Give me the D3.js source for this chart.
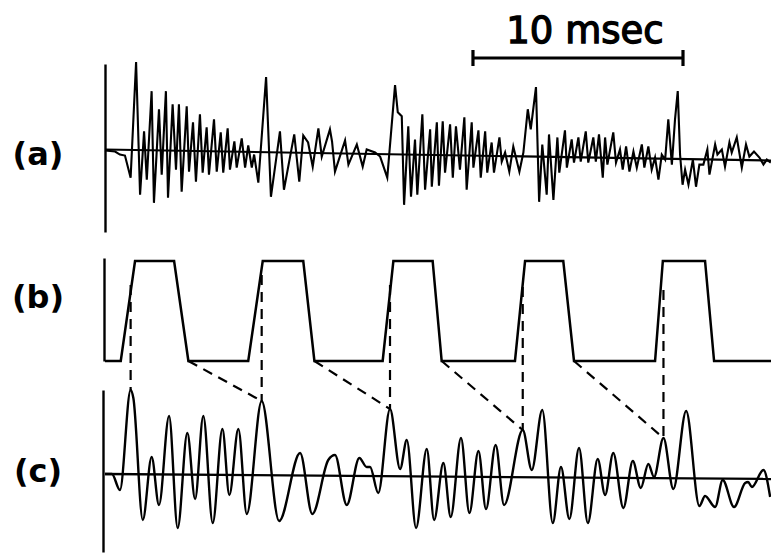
<!DOCTYPE html>
<html>
<head>
<meta charset="utf-8">
<script src="https://cdn.jsdelivr.net/npm/d3@7"></script>
<style>
  html, body { margin: 0; padding: 0; background: #fff; }
  svg { display: block; }
  .lbl { font-family: "DejaVu Sans", sans-serif; font-weight: bold; fill: #000; }
  .bar-lbl { font-family: "DejaVu Sans", sans-serif; fill: #000; stroke: #000; stroke-width: 1.3; }
</style>
</head>
<body>
<svg id="fig" width="771" height="556"></svg>
<script>
// ---- data -------------------------------------------------------------
// time in ms, amplitudes in arbitrary units

// (a) raw waveform: [time, amplitude]
const traceA = [
  [0,0],[0.48,-0.1],[0.71,-0.4],[0.95,-0.5],[1.22,-2.7],[1.48,8.8],[1.67,-4.4],[1.86,1.9],
  [1.99,-2.9],[2.22,5.9],[2.33,-5.2],[2.57,4.1],[2.70,-2.4],[2.90,5.9],[3.00,-4.7],[3.22,4.6],
  [3.38,-1.9],[3.52,4.6],[3.65,-4.1],[3.89,4.4],[4.00,-2.1],[4.19,2.8],[4.33,-3.1],[4.52,3.6],
  [4.65,-2.2],[4.84,2.3],[4.95,-2.4],[5.19,3.1],[5.32,-2.1],[5.51,1.8],[5.63,-2.2],[5.84,2.2],
  [5.95,-1.9],[6.16,0.9],[6.27,-1.7],[6.51,1.2],[6.67,-1.7],[6.82,0.5],[6.99,-1.7],[7.10,-0.4],
  [7.30,-3.2],[7.67,7.3],[7.90,-4.6],[8.33,1.9],[8.52,-3.9],[9.01,1.6],[9.25,-3.1],[9.44,1.5],
  [9.67,0.8],[9.89,-1.6],[10.16,2.2],[10.32,-0.6],[10.71,2.1],[10.81,0.9],[10.95,-2.1],[11.43,1.0],
  [11.59,-1.4],[11.99,0.6],[12.27,-1.6],[12.46,0.1],[12.86,-0.2],[13.10,-0.6],[13.44,-2.7],[13.81,6.5],
  [13.94,3.8],[14.13,3.4],[14.24,-5.4],[14.44,2.4],[14.57,-4.6],[14.76,1.1],[14.87,-4.4],[15.11,3.6],
  [15.24,-3.9],[15.48,2.1],[15.56,-3.6],[15.80,2.8],[15.90,-3.5],[16.08,2.9],[16.19,-2.2],[16.43,2.6],
  [16.56,-2.7],[16.71,2.4],[16.90,-1.9],[17.11,3.3],[17.22,-3.9],[17.46,2.8],[17.54,-1.7],[17.78,2.0],
  [17.89,-2.7],[18.10,1.9],[18.20,-2.2],[18.41,0.8],[18.52,-2.2],[18.78,1.3],[18.89,-1.1],[19.05,-0.2],
  [19.25,-2.1],[19.44,0.4],[19.73,-2.1],[19.92,-0.2],[20.13,4.1],[20.27,2.1],[20.52,6.3],[20.67,-5.1],
  [20.82,0.6],[21.03,-4.4],[21.14,1.6],[21.35,-4.9],[21.54,1.3],[21.63,-2.2],[21.90,2.0],[21.99,-1.7],
  [22.22,1.1],[22.33,-1.2],[22.54,1.3],[22.65,-1.1],[22.89,1.9],[23.01,-1.2],[23.25,1.3],[23.37,-1.1],
  [23.52,1.6],[23.70,-2.7],[23.81,1.3],[23.92,-1.4],[24.20,1.8],[24.33,-1.2],[24.52,0.1],[24.65,-1.9],
  [24.81,0.4],[24.97,-2.1],[25.16,-0.1],[25.32,-1.7],[25.56,0.6],[25.68,-1.7],[25.87,0.4],[26.03,-1.9],
  [26.19,-0.7],[26.35,-2.9],[26.51,-0.4],[26.67,-0.9],[26.82,3.1],[26.99,-1.4],[27.14,3.1],[27.27,5.9],
  [27.38,-0.4],[27.50,-3.4],[27.62,-1.9],[27.78,-3.4],[27.99,-0.9],[28.14,-3.6],[28.30,-1.4],[28.49,-1.4],
  [28.68,0.1],[28.78,-2.4],[29.05,0.6],[29.16,-0.4],[29.37,0.1],[29.52,-1.6],[29.73,0.8],[29.84,-0.2],
  [30.08,1.3],[30.32,-1.7],[30.52,0.6],[30.68,-0.6],[30.90,-0.1],[31.16,-0.7],[31.35,-1.4],[31.51,-0.9],
  [31.70,-1.2]
];
const baselineA = [[0, 0.1], [31.71, -1.0]];

// (b) pulses: rise start, rise end, fall start, fall end (ms)
const pulseRiseStart = [0.75, 6.82, 13.22, 19.52, 26.19];
const pulseRiseEnd   = [1.43, 7.51, 13.73, 20.00, 26.56];
const pulseFallStart = [3.29, 9.44, 15.60, 21.82, 28.57];
const pulseFallEnd   = [3.97, 9.97, 16.03, 22.33, 29.00];
const pulseLevel = 1;

// (c) filtered waveform: [time, amplitude] at its turning points
const traceC = [
  [0,0],[0.33,0],[0.71,-1.6],[1.22,8.4],[1.35,7.6],[1.80,-4.6],[2.22,1.7],[2.57,-3.1],
  [3.05,5.8],[3.46,-5.4],[3.92,4.1],[4.29,-2.5],[4.68,5.8],[5.13,-4.9],[5.59,4.5],[5.92,-2.1],
  [6.35,4.5],[6.75,-4.0],[7.46,7.3],[8.29,-4.7],[9.29,2.1],[9.87,-4.0],[10.63,1.4],[10.95,1.9],
  [11.51,-3.1],[12.11,1.6],[12.46,0.7],[12.62,0.7],[13.01,-1.9],[13.57,6.5],[14.05,0.5],[14.37,3.4],
  [14.81,-5.4],[15.32,2.5],[15.67,-4.6],[16.11,1.1],[16.46,-4.3],[16.95,3.6],[17.35,-3.9],[17.78,2.3],
  [18.14,-3.5],[18.60,2.9],[19.00,-3.1],[19.89,4.4],[20.32,0.4],[20.82,6.4],[21.32,-4.9],[21.71,0.7],
  [22.11,-4.5],[22.57,2.6],[22.99,-4.9],[23.46,1.5],[23.81,-2.1],[24.20,2.1],[24.68,-3.4],[25.13,1.3],
  [25.51,-1.4],[25.87,1.0],[26.14,-0.3],[26.59,3.6],[27.06,-1.5],[27.67,6.3],[28.30,-3.2],[28.57,-2.2],
  [29.05,-3.3],[29.41,-0.6],[29.95,-3.3],[30.48,-0.9],[30.62,-0.8],[30.80,-1.3],[31.35,0.4],[31.67,-2.3]
];
const baselineC = [[0, 0], [31.71, -0.5]];

// pulse-to-peak links: peak in (c) that each pulse marks, and where the marker leaves the pulse edge
const linkPeakTime  = [1.22, 7.46, 13.57, 19.89, 26.59];
const linkPeakValue = [8.4, 7.3, 6.5, 4.4, 3.6];
const linkEdgeLevel = [0.76, 0.86, 0.76, 0.74, 0.71];

// scale bar
const scaleBarStart = 17.52;
const scaleBarLength = 10;
const scaleBarText = "10 msec";

const panelLabels = ["(a)", "(b)", "(c)"];

// ---- drawing ----------------------------------------------------------
const svg = d3.select("#fig");

const x = d3.scaleLinear().domain([0, 31.71]).range([105, 771]);
const yA = d3.scaleLinear().domain([-8.1, 8.6]).range([232, 64]);
const yB = d3.scaleLinear().domain([0, 1.03]).range([361, 258]);
const yC = d3.scaleLinear().domain([-7.8, 8.4]).range([552, 390]);

// vertical axes (no ticks)
[[yA, 105], [yB, 104], [yC, 103]].forEach(([sc, px]) => {
  const g = svg.append("g")
    .attr("transform", `translate(${px},0)`)
    .call(d3.axisLeft(sc).tickValues([]).tickSizeOuter(0));
  g.select(".domain").attr("stroke", "#000").attr("stroke-width", 2.4);
});

// (a)
svg.append("path")
  .datum(baselineA)
  .attr("d", d3.line().x(d => x(d[0])).y(d => yA(d[1])))
  .attr("fill", "none").attr("stroke", "#000").attr("stroke-width", 2.2);
svg.append("path")
  .datum(traceA)
  .attr("d", d3.line().x(d => x(d[0])).y(d => yA(d[1])).curve(d3.curveLinear))
  .attr("fill", "none").attr("stroke", "#000").attr("stroke-width", 2.1)
  .attr("stroke-linejoin", "miter").attr("stroke-miterlimit", 6);

// (b) pulse train
const pulsePts = [[0, 0]];
pulseRiseStart.forEach((t, i) => {
  pulsePts.push([t, 0], [pulseRiseEnd[i], pulseLevel], [pulseFallStart[i], pulseLevel], [pulseFallEnd[i], 0]);
});
pulsePts.push([31.71, 0]);
svg.append("path")
  .datum(pulsePts)
  .attr("d", d3.line().x(d => x(d[0])).y(d => yB(d[1])))
  .attr("fill", "none").attr("stroke", "#000").attr("stroke-width", 2.5)
  .attr("stroke-linejoin", "miter");

// (c)
svg.append("path")
  .datum(baselineC)
  .attr("d", d3.line().x(d => x(d[0])).y(d => yC(d[1])))
  .attr("fill", "none").attr("stroke", "#000").attr("stroke-width", 2.3);
svg.append("path")
  .datum(traceC)
  .attr("d", d3.line().x(d => x(d[0])).y(d => yC(d[1])).curve(d3.curveMonotoneX))
  .attr("fill", "none").attr("stroke", "#000").attr("stroke-width", 2.4);

// dashed links between pulses and peaks
const links = svg.append("g")
  .attr("fill", "none").attr("stroke", "#000").attr("stroke-width", 2.2)
  .attr("stroke-dasharray", "10,7");
linkPeakTime.forEach((t, i) => {
  links.append("line")
    .attr("x1", x(t)).attr("y1", yB(linkEdgeLevel[i]))
    .attr("x2", x(t)).attr("y2", yC(linkPeakValue[i]));
  if (i > 0) {
    links.append("line")
      .attr("x1", x(pulseFallEnd[i - 1])).attr("y1", yB(0))
      .attr("x2", x(t)).attr("y2", yC(linkPeakValue[i]));
  }
});

// scale bar
const sb = svg.append("g").attr("stroke", "#000").attr("stroke-width", 3.2);
const sbY = 58;
sb.append("line").attr("x1", x(scaleBarStart)).attr("x2", x(scaleBarStart + scaleBarLength))
  .attr("y1", sbY).attr("y2", sbY);
[scaleBarStart, scaleBarStart + scaleBarLength].forEach(t => {
  sb.append("line").attr("x1", x(t)).attr("x2", x(t)).attr("y1", sbY - 8).attr("y2", sbY + 8);
});
svg.append("text").attr("class", "bar-lbl")
  .attr("x", x(scaleBarStart + scaleBarLength / 2) + 7).attr("y", 43)
  .attr("text-anchor", "middle").attr("font-size", 37)
  .text(scaleBarText);

// panel labels
const labelY = [165, 308, 482];
panelLabels.forEach((s, i) => {
  svg.append("text").attr("class", "lbl")
    .attr("x", 38).attr("y", labelY[i])
    .attr("text-anchor", "middle").attr("font-size", 32)
    .text(s);
});
</script>
</body>
</html>
